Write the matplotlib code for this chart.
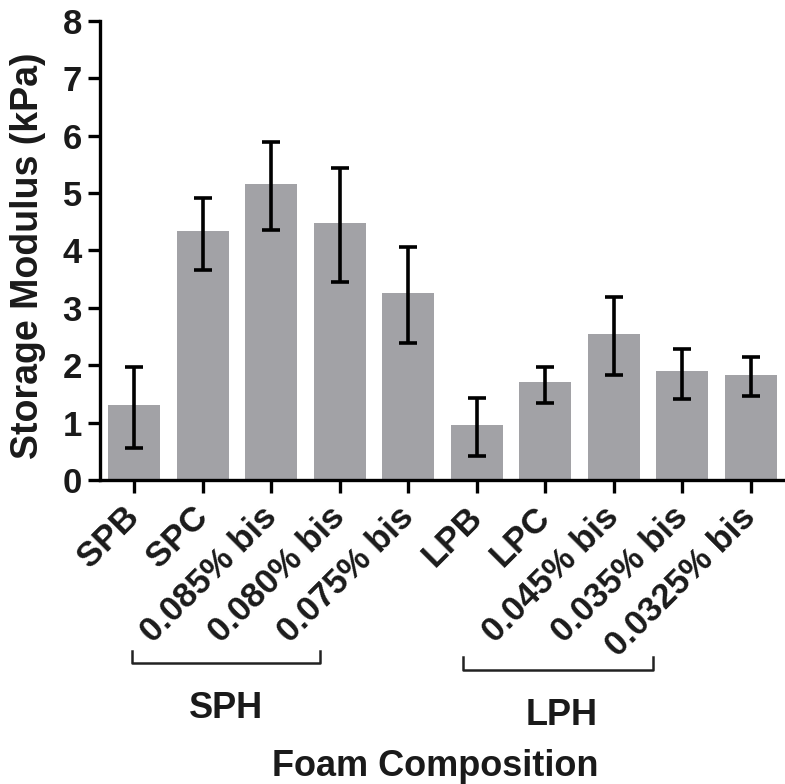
import matplotlib
matplotlib.use("Agg")
import matplotlib.pyplot as plt
from matplotlib.lines import Line2D
import numpy as np

plt.rcParams['font.family'] = ['Liberation Sans', 'DejaVu Sans']
plt.rcParams['font.weight'] = 'bold'

categories = ["SPB", "SPC", "0.085% bis", "0.080% bis", "0.075% bis",
              "LPB", "LPC", "0.045% bis", "0.035% bis", "0.0325% bis"]
means = [1.31, 4.33, 5.16, 4.48, 3.25, 0.96, 1.70, 2.54, 1.89, 1.83]
err_top = [1.97, 4.91, 5.88, 5.43, 4.05, 1.43, 1.96, 3.18, 2.29, 2.14]
err_bottom = [0.55, 3.66, 4.36, 3.45, 2.39, 0.42, 1.34, 1.83, 1.41, 1.46]
yticks = [0, 1, 2, 3, 4, 5, 6, 7, 8]
groups = ["SPH", "LPH"]

W, H = 785, 784
fig = plt.figure(figsize=(W / 100, H / 100), dpi=100)
ax = fig.add_axes([100 / W, 1 - 480 / H, 685 / W, (480 - 20.7) / H])

x = np.arange(len(categories))
m = np.array(means)
yerr = np.vstack([m - np.array(err_bottom), np.array(err_top) - m])
ax.bar(x, m, width=0.76, color='#a2a2a6', zorder=1)
ax.errorbar(x, m, yerr=yerr, fmt='none', ecolor='black', elinewidth=2.6,
            capsize=6.5, capthick=2.6, zorder=2)

ax.set_xlim(-0.5, len(categories) - 0.5)
ax.set_ylim(0, 8)
ax.set_yticks(yticks)
ax.set_yticklabels([str(v) for v in yticks], fontsize=25, fontweight='bold',
                   color='#1a1a1a')
ax.set_xticks(x)
ax.set_xticklabels(categories, rotation=45, ha='right', va='center',
                   rotation_mode='anchor', fontsize=25, fontweight='bold',
                   color='#1a1a1a')
for s in ['top', 'right']:
    ax.spines[s].set_visible(False)
for s in ['left', 'bottom']:
    ax.spines[s].set_linewidth(2.4)
ax.tick_params(axis='both', length=9, width=2.4, color='black')
ax.tick_params(axis='y', pad=4)
ax.tick_params(axis='x', pad=14)

ax.set_ylabel("Storage Modulus (kPa)", fontsize=27, fontweight='bold',
              color='#1a1a1a')
ax.yaxis.set_label_coords(-(100 - 46) / 685, (480 - 256) / (480 - 20.7))


def px(xp, yp):
    return xp / W, 1 - yp / H


# group brackets (figure pixel coordinates)
brackets = [(131.7, 320.0, 651.0, 663.0), (463.3, 652.7, 657.0, 670.0)]
for (x0, x1, ytop, ybot) in brackets:
    xs = [x0, x0, x1, x1]
    ys = [ytop, ybot, ybot, ytop]
    fig.add_artist(Line2D([v / W for v in xs], [1 - v / H for v in ys],
                          color='#222222', lw=1.8, transform=fig.transFigure))

label_pos = [(226, 718), (562, 725)]
for g, (xp, yp) in zip(groups, label_pos):
    fig.text(*px(xp, yp), g, ha='center', va='baseline', fontsize=26,
             fontweight='bold', color='#1a1a1a')

fig.text(*px(435, 776), "Foam Composition", ha='center', va='baseline',
         fontsize=26, fontweight='bold', color='#1a1a1a')

fig.savefig("out.png", dpi=100)
